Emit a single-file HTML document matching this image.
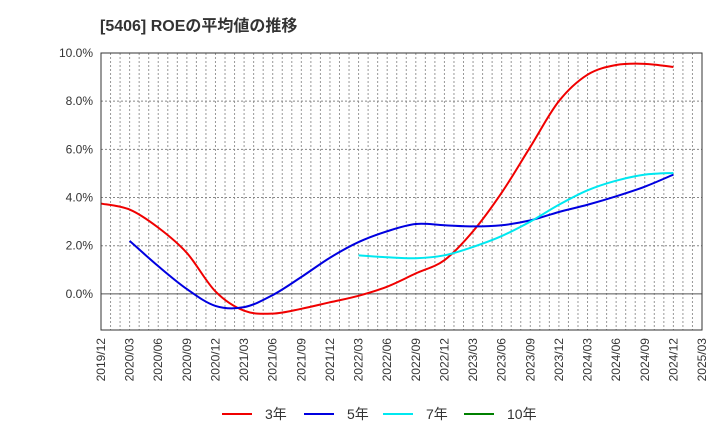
<!DOCTYPE html>
<html><head><meta charset="utf-8"><style>
body{margin:0;background:#fff;font-family:"Liberation Sans","Noto Sans CJK JP",sans-serif;}
svg text{fill:#333;}
</style></head><body>
<svg id="c" width="720" height="440" viewBox="0 0 720 440">
<text x="100" y="31" font-size="16" font-weight="bold" style="font-family:'Liberation Sans','Noto Sans CJK JP',sans-serif">[5406]  ROEの平均値の推移</text>
<g id="grid"></g><g id="series"></g><g id="axes"></g>
<g id="legend"></g>
</svg>
<script>
const categories=["2019/12","2020/03","2020/06","2020/09","2020/12","2021/03","2021/06","2021/09","2021/12","2022/03","2022/06","2022/09","2022/12","2023/03","2023/06","2023/09","2023/12","2024/03","2024/06","2024/09","2024/12","2025/03"];
const yTicks=[0,2,4,6,8,10];
const yTickLabels=["0.0%","2.0%","4.0%","6.0%","8.0%","10.0%"];
const s3=[3.75,3.5,2.75,1.7,0.1,-0.7,-0.82,-0.62,-0.35,-0.08,0.3,0.85,1.4,2.6,4.2,6.1,8.0,9.1,9.5,9.55,9.42,null];
const s5=[null,2.2,1.15,0.2,-0.5,-0.55,-0.05,0.7,1.5,2.15,2.6,2.9,2.85,2.8,2.85,3.05,3.4,3.7,4.05,4.45,4.95,null];
const s7=[null,null,null,null,null,null,null,null,null,1.6,1.52,1.48,1.6,1.95,2.4,3.0,3.7,4.3,4.7,4.95,5.02,null];
const s10=[];
const seriesNames=["3年","5年","7年","10年"];
const seriesColors=["#f00000","#0000e0","#00e8f0","#008000"];
const L=101,R=702,T=53,B=330,yMin=-1.5,yMax=10;
const x=i=>L+(R-L)*i/(categories.length-1);
const y=v=>B-(B-T)*(v-yMin)/(yMax-yMin);
const NS="http://www.w3.org/2000/svg";
function mk(tag,attrs,parent){const e=document.createElementNS(NS,tag);for(const k in attrs)e.setAttribute(k,attrs[k]);parent.appendChild(e);return e;}
const grid=document.getElementById('grid'),axes=document.getElementById('axes'),ser=document.getElementById('series'),leg=document.getElementById('legend');
const nMonths=(categories.length-1)*3;
for(let m=1;m<nMonths;m++){const xx=L+(R-L)*m/nMonths;const g=mk('line',{x1:xx,x2:xx,y1:T,y2:B,stroke:'#999','stroke-dasharray':'2,2','stroke-width':1},grid);

}
yTicks.forEach((v,i)=>{const yy=y(v);const g=mk('line',{x1:L,x2:R,y1:yy,y2:yy,stroke:v===0?'#555':'#888','stroke-dasharray':v===0?'':'2,2','stroke-width':1},grid);


const t=mk('text',{x:L-8,y:yy+4,'font-size':12,'text-anchor':'end'},axes);t.textContent=yTickLabels[i];

});
const fr=mk('rect',{x:L,y:T,width:R-L,height:B-T,fill:'none',stroke:'#333','stroke-width':1},axes);


categories.forEach((c,i)=>{const t=mk('text',{transform:`translate(${x(i)+4},${B+8}) rotate(-90)`,'font-size':12,'text-anchor':'end'},axes);t.textContent=c;

});
function path(arr){const pts=[];arr.forEach((v,i)=>{if(v!=null)pts.push([x(i),y(v)]);});if(pts.length<2)return '';
let d=`M${pts[0][0]},${pts[0][1]}`;for(let i=0;i<pts.length-1;i++){const p0=pts[Math.max(0,i-1)],p1=pts[i],p2=pts[i+1],p3=pts[Math.min(pts.length-1,i+2)];
const c1=[p1[0]+(p2[0]-p0[0])/6,p1[1]+(p2[1]-p0[1])/6],c2=[p2[0]-(p3[0]-p1[0])/6,p2[1]-(p3[1]-p1[1])/6];d+=` C${c1[0]},${c1[1]} ${c2[0]},${c2[1]} ${p2[0]},${p2[1]}`;}return d;}
[s3,s5,s7,s10].forEach((s,k)=>{const d=path(s);if(!d)return;const p=mk('path',{d,fill:'none',stroke:seriesColors[k],'stroke-width':2},ser);

});
const lx=[222,304,383,464];
seriesNames.forEach((n,k)=>{const g=mk('g',{},leg);


mk('line',{x1:lx[k],x2:lx[k]+30,y1:414,y2:414,stroke:seriesColors[k],'stroke-width':2},g);
const t=mk('text',{x:lx[k]+43,y:419,'font-size':14},g);t.textContent=n;});
</script>
</body></html>
